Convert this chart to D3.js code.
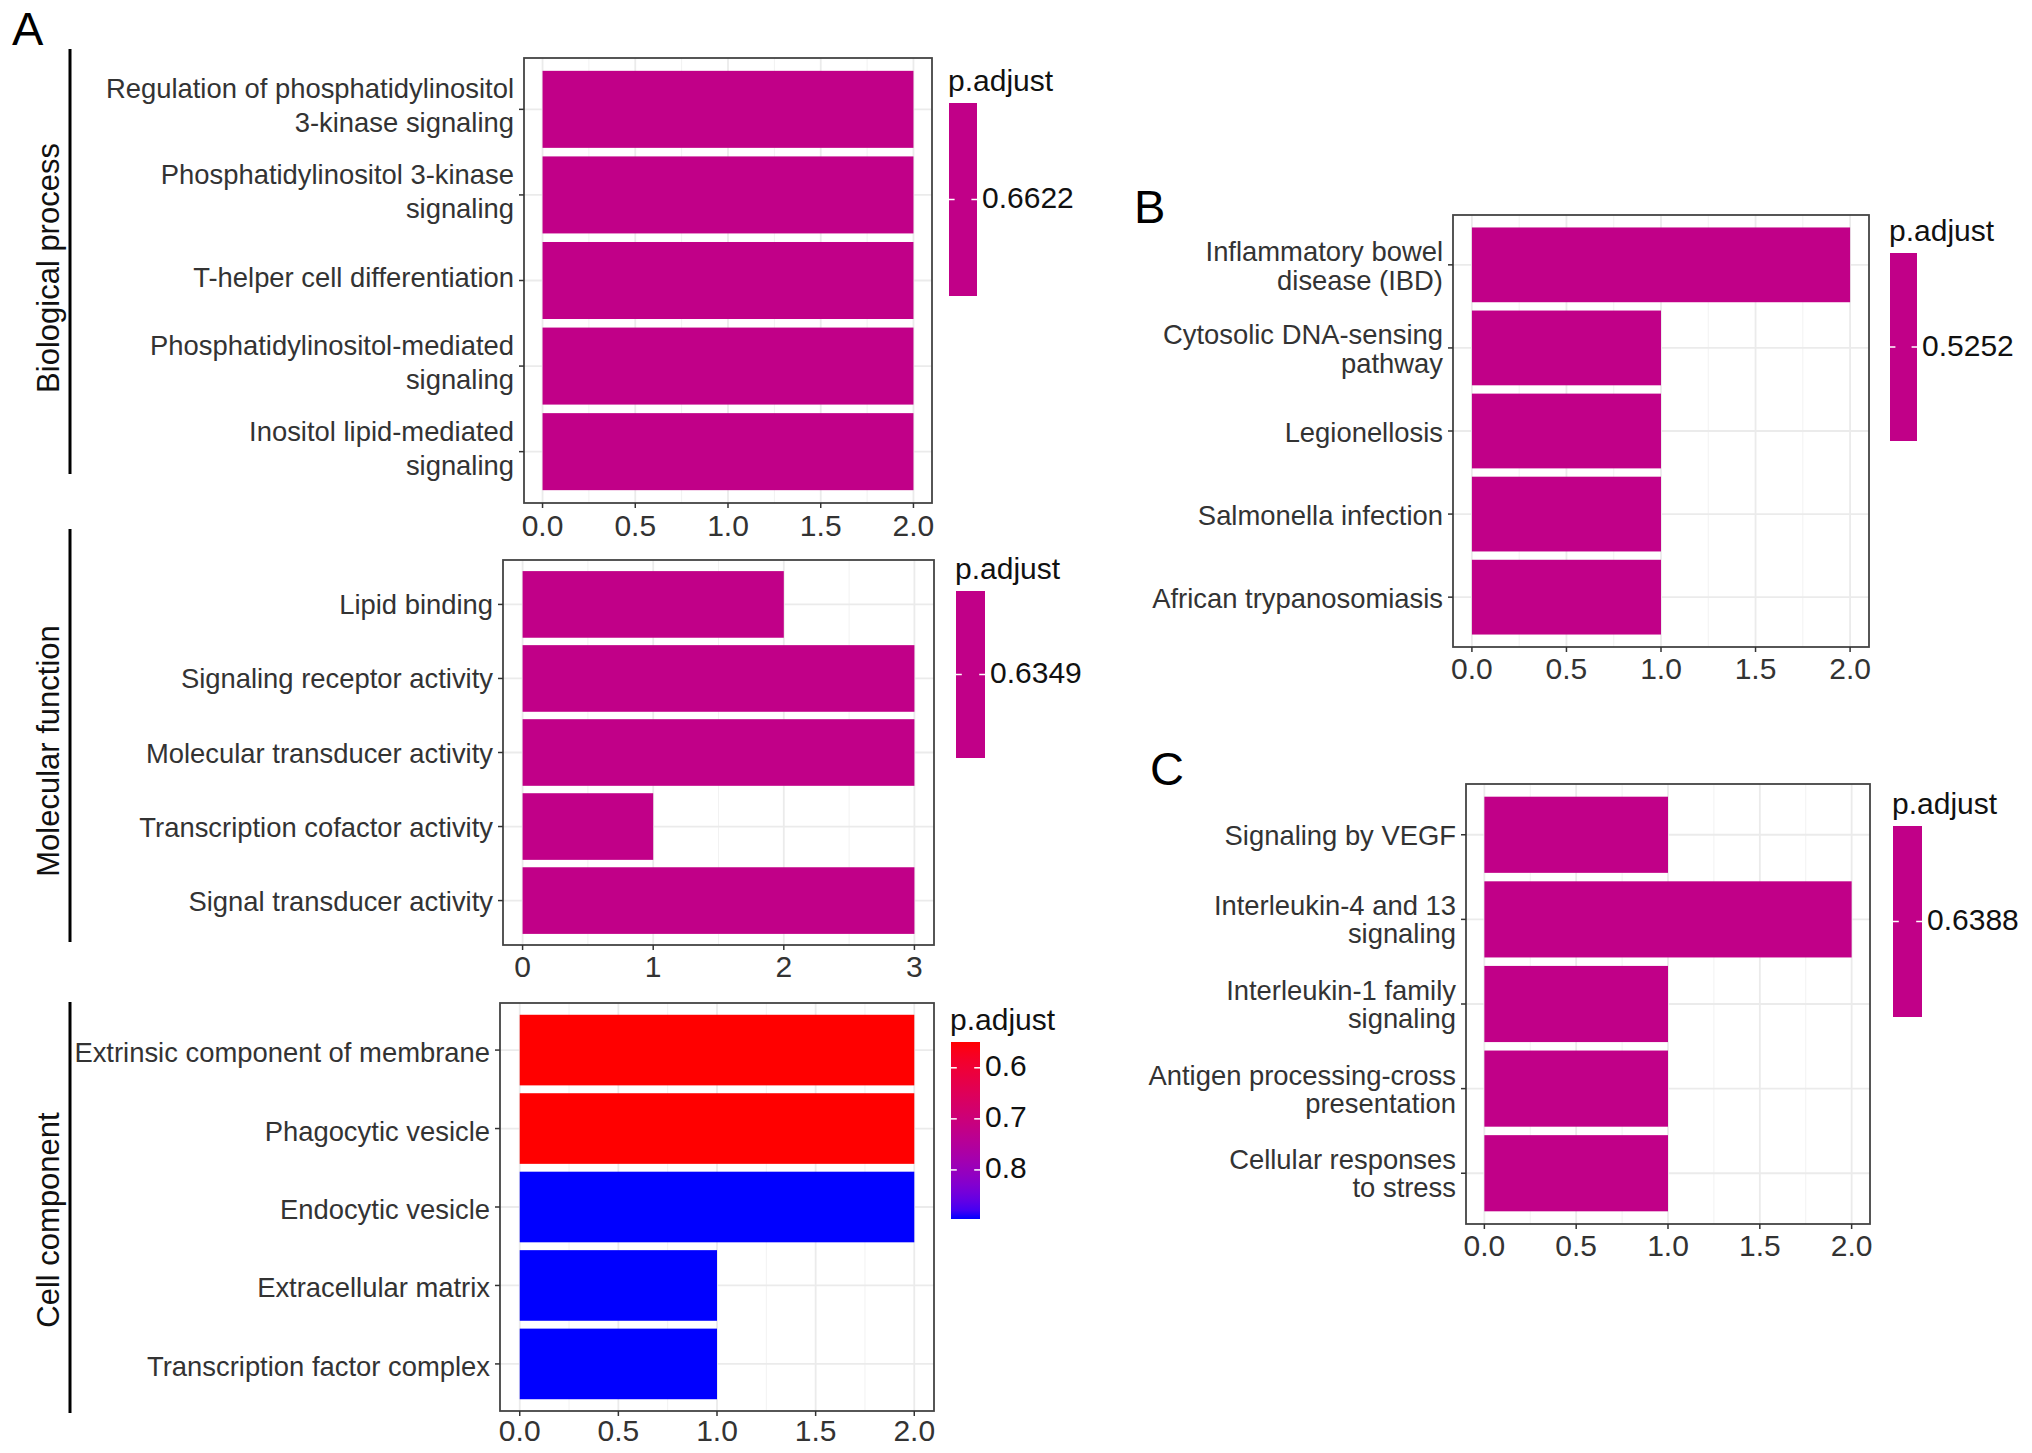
<!DOCTYPE html>
<html>
<head>
<meta charset="utf-8">
<script src="https://cdn.jsdelivr.net/npm/d3@7"></script>
<style>
body { margin: 0; background: #fff; }
svg { display: block; font-family: "Liberation Sans", Arial, Helvetica, sans-serif; }
</style>
</head>
<body>
<svg width="2032" height="1453"></svg>
<script>
// A - GO terms (top to bottom as drawn)
var bpTerms = ["Regulation of phosphatidylinositol\n3-kinase signaling", "Phosphatidylinositol 3-kinase\nsignaling",
  "T-helper cell differentiation", "Phosphatidylinositol-mediated\nsignaling", "Inositol lipid-mediated\nsignaling"];
var bpCounts = [2, 2, 2, 2, 2];
var bpPadj = [0.6622, 0.6622, 0.6622, 0.6622, 0.6622];
var bpTicks = [0, 0.5, 1, 1.5, 2];

var mfTerms = ["Lipid binding", "Signaling receptor activity", "Molecular transducer activity",
  "Transcription cofactor activity", "Signal transducer activity"];
var mfCounts = [2, 3, 3, 1, 3];
var mfPadj = [0.6349, 0.6349, 0.6349, 0.6349, 0.6349];
var mfTicks = [0, 1, 2, 3];

var ccTerms = ["Extrinsic component of membrane", "Phagocytic vesicle", "Endocytic vesicle",
  "Extracellular matrix", "Transcription factor complex"];
var ccCounts = [2, 2, 2, 1, 1];
var ccPadj = [0.5495, 0.5495, 0.8961, 0.8961, 0.8961];
var ccTicks = [0, 0.5, 1, 1.5, 2];
var ccLegendTicks = [0.6, 0.7, 0.8];

// B - KEGG
var keggTerms = ["Inflammatory bowel\ndisease (IBD)", "Cytosolic DNA-sensing\npathway", "Legionellosis",
  "Salmonella infection", "African trypanosomiasis"];
var keggCounts = [2, 1, 1, 1, 1];
var keggPadj = [0.5252, 0.5252, 0.5252, 0.5252, 0.5252];
var keggTicks = [0, 0.5, 1, 1.5, 2];

// C - Reactome
var reacTerms = ["Signaling by VEGF", "Interleukin-4 and 13\nsignaling", "Interleukin-1 family\nsignaling",
  "Antigen processing-cross\npresentation", "Cellular responses\nto stress"];
var reacCounts = [1, 2, 1, 1, 1];
var reacPadj = [0.6388, 0.6388, 0.6388, 0.6388, 0.6388];
var reacTicks = [0, 0.5, 1, 1.5, 2];

var stripLabels = ["Biological process", "Molecular function", "Cell component"];
var panelLetters = ["A", "B", "C"];

window.onload = function() {
var svg = d3.select('svg');
var gridColor = "#ebebeb";
var axisColor = "#333333";
var labelSize = 27.4;
var tickSize = 30;

var panels = [
  {terms: bpTerms, counts: bpCounts, padj: bpPadj, ticks: bpTicks, fmt: ".1f", legendTicks: null,
    box: {x0: 524, y0: 58, x1: 932, y1: 503}, lineStep: 34, labelDy: 6, tickDy: 33,
    legend: {x: 949, y: 103, w: 28, h: 193}},
  {terms: mfTerms, counts: mfCounts, padj: mfPadj, ticks: mfTicks, fmt: "d", legendTicks: null,
    box: {x0: 503, y0: 560, x1: 934, y1: 945}, lineStep: 34, labelDy: 10, tickDy: 32,
    legend: {x: 956, y: 591, w: 29, h: 167}},
  {terms: ccTerms, counts: ccCounts, padj: ccPadj, ticks: ccTicks, fmt: ".1f", legendTicks: ccLegendTicks,
    box: {x0: 500, y0: 1003, x1: 934, y1: 1411}, lineStep: 34, labelDy: 12, tickDy: 30,
    legend: {x: 951, y: 1042, w: 29, h: 177}},
  {terms: keggTerms, counts: keggCounts, padj: keggPadj, ticks: keggTicks, fmt: ".1f", legendTicks: null,
    box: {x0: 1453, y0: 215, x1: 1869, y1: 647}, lineStep: 29, labelDy: 11, tickDy: 32,
    legend: {x: 1890, y: 253, w: 27, h: 188}},
  {terms: reacTerms, counts: reacCounts, padj: reacPadj, ticks: reacTicks, fmt: ".1f", legendTicks: null,
    box: {x0: 1466, y0: 784, x1: 1870, y1: 1224}, lineStep: 28, labelDy: 10, tickDy: 32,
    legend: {x: 1893, y: 826, w: 29, h: 191}}
];

panels.forEach(function(p, pi) {
  var g = svg.append('g');
  var b = p.box;
  var xMax = d3.max(p.ticks);
  var x = d3.scaleLinear()
    .domain([-0.05 * xMax, xMax * 1.05])
    .range([b.x0, b.x1]);
  var y = d3.scaleBand()
    .domain(p.terms)
    .range([b.y0, b.y1])
    .paddingInner(0.1)
    .paddingOuter(0.15);
  var ext = d3.extent(p.padj);
  var color = d3.scaleLinear()
    .domain(ext)
    .range(["red", "blue"])
    .interpolate(d3.interpolateLab);

  // minor + major grid
  var minor = [];
  for (var i = 0; i < p.ticks.length - 1; i++) minor.push((p.ticks[i] + p.ticks[i + 1]) / 2);
  g.selectAll('.minor').data(minor).enter().append('line')
    .attr('x1', function(d) { return x(d); })
    .attr('x2', function(d) { return x(d); })
    .attr('y1', b.y0).attr('y2', b.y1)
    .attr('stroke', "#f2f2f2").attr('stroke-width', 1);
  g.selectAll('.vgrid').data(p.ticks).enter().append('line')
    .attr('x1', function(d) { return x(d); })
    .attr('x2', function(d) { return x(d); })
    .attr('y1', b.y0).attr('y2', b.y1)
    .attr('stroke', gridColor).attr('stroke-width', 1.8);
  g.selectAll('.hgrid').data(p.terms).enter().append('line')
    .attr('x1', b.x0).attr('x2', b.x1)
    .attr('y1', function(d) { return y(d) + y.bandwidth() / 2; })
    .attr('y2', function(d) { return y(d) + y.bandwidth() / 2; })
    .attr('stroke', gridColor).attr('stroke-width', 1.8);

  // bars
  g.selectAll('.bar').data(p.terms).enter().append('rect')
    .attr('x', x(0))
    .attr('y', function(d) { return y(d); })
    .attr('width', function(d, i) { return x(p.counts[i]) - x(0); })
    .attr('height', y.bandwidth())
    .attr('fill', function(d, i) { return color(p.padj[i]); });

  // panel border
  g.append('rect')
    .attr('x', b.x0).attr('y', b.y0)
    .attr('width', b.x1 - b.x0).attr('height', b.y1 - b.y0)
    .attr('fill', 'none').attr('stroke', "#444").attr('stroke-width', 1.8);

  // x axis ticks & labels
  var fmt = d3.format(p.fmt);
  g.selectAll('.xtick').data(p.ticks).enter().append('line')
    .attr('x1', function(d) { return x(d); })
    .attr('x2', function(d) { return x(d); })
    .attr('y1', b.y1).attr('y2', b.y1 + 5)
    .attr('stroke', axisColor).attr('stroke-width', 1.5);
  g.selectAll('.xlab').data(p.ticks).enter().append('text')
    .attr('x', function(d) { return x(d); })
    .attr('y', b.y1 + p.tickDy)
    .attr('text-anchor', 'middle')
    .attr('font-size', tickSize)
    .attr('fill', axisColor)
    .text(function(d) { return fmt(d); });

  // y axis ticks & labels
  g.selectAll('.ytick').data(p.terms).enter().append('line')
    .attr('x1', b.x0 - 5).attr('x2', b.x0)
    .attr('y1', function(d) { return y(d) + y.bandwidth() / 2; })
    .attr('y2', function(d) { return y(d) + y.bandwidth() / 2; })
    .attr('stroke', axisColor).attr('stroke-width', 1.5);
  g.selectAll('.ylab').data(p.terms).enter().append('text')
    .attr('text-anchor', 'end')
    .attr('font-size', labelSize)
    .attr('fill', axisColor)
    .each(function(d) {
      var lines = d.split("\n");
      var cy = y(d) + y.bandwidth() / 2;
      var t = d3.select(this);
      lines.forEach(function(l, li) {
        t.append('tspan')
          .attr('x', b.x0 - 10)
          .attr('y', cy + (li - (lines.length - 1) / 2) * p.lineStep + p.labelDy)
          .text(l);
      });
    });

  // legend
  var L = p.legend;
  g.append('text')
    .attr('x', L.x - 1).attr('y', L.y - 12)
    .attr('font-size', 30).attr('fill', "#111")
    .text("p.adjust");
  var gradId = 'grad' + pi;
  var grad = svg.append('defs').append('linearGradient')
    .attr('id', gradId)
    .attr('x1', 0).attr('y1', 0).attr('x2', 0).attr('y2', 1);
  d3.range(0, 1.0001, 0.05).forEach(function(t) {
    grad.append('stop')
      .attr('offset', t)
      .attr('stop-color', ext[0] === ext[1] ? color(ext[0]) : color(ext[0] + t * (ext[1] - ext[0])));
  });
  g.append('rect')
    .attr('x', L.x).attr('y', L.y)
    .attr('width', L.w).attr('height', L.h)
    .attr('fill', 'url(#' + gradId + ')');
  var ly = d3.scaleLinear().domain(ext).range([L.y, L.y + L.h]);
  var lticks = p.legendTicks || [ext[0]];
  var lfmt = p.legendTicks ? d3.format(".1f") : d3.format(".4f");
  var lpos = function(d) { return p.legendTicks ? ly(d) : L.y + L.h / 2; };
  lticks.forEach(function(d) {
    var yy = lpos(d);
    g.append('line')
      .attr('x1', L.x).attr('x2', L.x + L.w / 5)
      .attr('y1', yy).attr('y2', yy)
      .attr('stroke', '#fff').attr('stroke-width', 1.5);
    g.append('line')
      .attr('x1', L.x + L.w - L.w / 5).attr('x2', L.x + L.w)
      .attr('y1', yy).attr('y2', yy)
      .attr('stroke', '#fff').attr('stroke-width', 1.5);
    g.append('text')
      .attr('x', L.x + L.w + 5)
      .attr('y', yy + 8.5)
      .attr('font-size', 30).attr('fill', "#111")
      .text(lfmt(d));
  });
});

// strip labels for panel A
var strips = [
  {y0: 49, y1: 474, cy: 268},
  {y0: 529, y1: 942, cy: 751},
  {y0: 1002, y1: 1413, cy: 1220}
];
strips.forEach(function(s, i) {
  svg.append('line')
    .attr('x1', 70).attr('x2', 70)
    .attr('y1', s.y0).attr('y2', s.y1)
    .attr('stroke', '#000').attr('stroke-width', 3);
  svg.append('text')
    .attr('transform', 'translate(59,' + s.cy + ') rotate(-90)')
    .attr('text-anchor', 'middle')
    .attr('font-size', 31)
    .attr('fill', '#111')
    .text(stripLabels[i]);
});

// panel letters
var letterPos = [[12, 45], [1134, 223], [1150, 785]];
panelLetters.forEach(function(l, i) {
  svg.append('text')
    .attr('x', letterPos[i][0]).attr('y', letterPos[i][1])
    .attr('font-size', 47)
    .attr('fill', '#000')
    .text(l);
});
};
</script>
</body>
</html>
